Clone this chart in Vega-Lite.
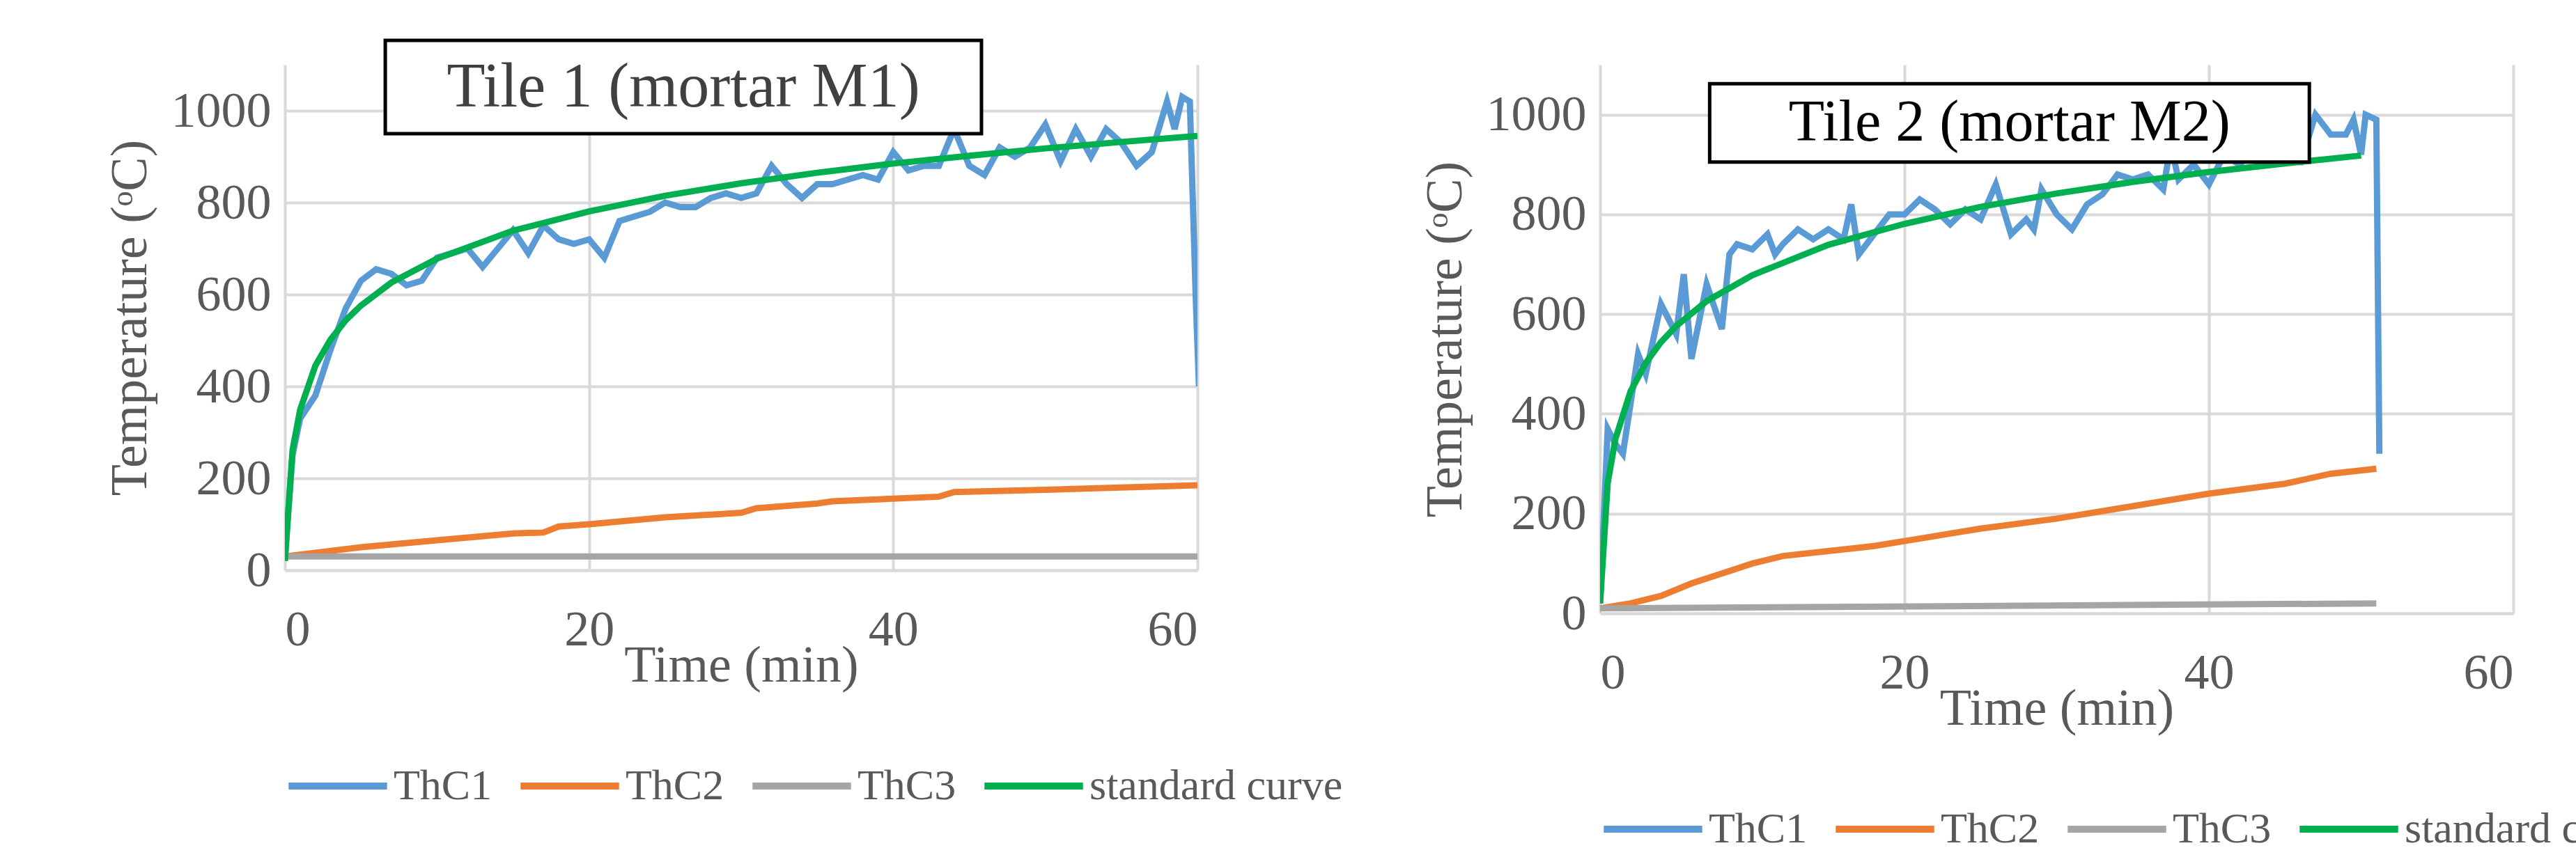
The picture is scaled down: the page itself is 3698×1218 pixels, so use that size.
{
  "$schema": "https://vega.github.io/schema/vega-lite/v6.json",
  "background": "white",
  "padding": {"left": 150, "top": 17, "right": 10, "bottom": 5},
  "spacing": 110,
  "datasets": {
    "tile1": [
      {"t":0,"temp":30,"s":"ThC1"},{"t":0.5,"temp":250,"s":"ThC1"},{"t":1,"temp":330,"s":"ThC1"},{"t":2,"temp":380,"s":"ThC1"},{"t":3,"temp":480,"s":"ThC1"},{"t":4,"temp":570,"s":"ThC1"},{"t":5,"temp":630,"s":"ThC1"},{"t":6,"temp":655,"s":"ThC1"},{"t":7,"temp":645,"s":"ThC1"},{"t":8,"temp":620,"s":"ThC1"},{"t":9,"temp":630,"s":"ThC1"},{"t":10,"temp":680,"s":"ThC1"},{"t":11,"temp":690,"s":"ThC1"},{"t":12,"temp":700,"s":"ThC1"},{"t":13,"temp":660,"s":"ThC1"},{"t":14,"temp":700,"s":"ThC1"},{"t":15,"temp":740,"s":"ThC1"},{"t":16,"temp":690,"s":"ThC1"},{"t":17,"temp":750,"s":"ThC1"},{"t":18,"temp":720,"s":"ThC1"},{"t":19,"temp":710,"s":"ThC1"},{"t":20,"temp":720,"s":"ThC1"},{"t":21,"temp":680,"s":"ThC1"},{"t":22,"temp":760,"s":"ThC1"},{"t":23,"temp":770,"s":"ThC1"},{"t":24,"temp":780,"s":"ThC1"},{"t":25,"temp":800,"s":"ThC1"},{"t":26,"temp":790,"s":"ThC1"},{"t":27,"temp":790,"s":"ThC1"},{"t":28,"temp":810,"s":"ThC1"},{"t":29,"temp":820,"s":"ThC1"},{"t":30,"temp":810,"s":"ThC1"},{"t":31,"temp":820,"s":"ThC1"},{"t":32,"temp":880,"s":"ThC1"},{"t":33,"temp":840,"s":"ThC1"},{"t":34,"temp":810,"s":"ThC1"},{"t":35,"temp":840,"s":"ThC1"},{"t":36,"temp":840,"s":"ThC1"},{"t":37,"temp":850,"s":"ThC1"},{"t":38,"temp":860,"s":"ThC1"},{"t":39,"temp":850,"s":"ThC1"},{"t":40,"temp":910,"s":"ThC1"},{"t":41,"temp":870,"s":"ThC1"},{"t":42,"temp":880,"s":"ThC1"},{"t":43,"temp":880,"s":"ThC1"},{"t":44,"temp":960,"s":"ThC1"},{"t":45,"temp":880,"s":"ThC1"},{"t":46,"temp":860,"s":"ThC1"},{"t":47,"temp":920,"s":"ThC1"},{"t":48,"temp":900,"s":"ThC1"},{"t":49,"temp":920,"s":"ThC1"},{"t":50,"temp":970,"s":"ThC1"},{"t":51,"temp":890,"s":"ThC1"},{"t":52,"temp":960,"s":"ThC1"},{"t":53,"temp":900,"s":"ThC1"},{"t":54,"temp":960,"s":"ThC1"},{"t":55,"temp":930,"s":"ThC1"},{"t":56,"temp":880,"s":"ThC1"},{"t":57,"temp":910,"s":"ThC1"},{"t":58,"temp":1020,"s":"ThC1"},{"t":58.5,"temp":960,"s":"ThC1"},{"t":59,"temp":1030,"s":"ThC1"},{"t":59.5,"temp":1020,"s":"ThC1"},{"t":59.9,"temp":580,"s":"ThC1"},{"t":60.1,"temp":400,"s":"ThC1"},
      {"t":0,"temp":30,"s":"ThC2"},{"t":5,"temp":50,"s":"ThC2"},{"t":10,"temp":65,"s":"ThC2"},{"t":15,"temp":80,"s":"ThC2"},{"t":17,"temp":82,"s":"ThC2"},{"t":18,"temp":95,"s":"ThC2"},{"t":20,"temp":100,"s":"ThC2"},{"t":25,"temp":115,"s":"ThC2"},{"t":30,"temp":125,"s":"ThC2"},{"t":31,"temp":135,"s":"ThC2"},{"t":35,"temp":145,"s":"ThC2"},{"t":36,"temp":150,"s":"ThC2"},{"t":43,"temp":160,"s":"ThC2"},{"t":44,"temp":170,"s":"ThC2"},{"t":50,"temp":175,"s":"ThC2"},{"t":60,"temp":185,"s":"ThC2"},
      {"t":0,"temp":30,"s":"ThC3"},{"t":60,"temp":30,"s":"ThC3"},
      {"t":0,"temp":20,"s":"standard curve"},{"t":0.5,"temp":261,"s":"standard curve"},{"t":1,"temp":349,"s":"standard curve"},{"t":2,"temp":445,"s":"standard curve"},{"t":3,"temp":502,"s":"standard curve"},{"t":4,"temp":544,"s":"standard curve"},{"t":5,"temp":576,"s":"standard curve"},{"t":7,"temp":626,"s":"standard curve"},{"t":10,"temp":678,"s":"standard curve"},{"t":15,"temp":739,"s":"standard curve"},{"t":20,"temp":781,"s":"standard curve"},{"t":25,"temp":815,"s":"standard curve"},{"t":30,"temp":842,"s":"standard curve"},{"t":35,"temp":865,"s":"standard curve"},{"t":40,"temp":885,"s":"standard curve"},{"t":45,"temp":902,"s":"standard curve"},{"t":50,"temp":918,"s":"standard curve"},{"t":55,"temp":932,"s":"standard curve"},{"t":60,"temp":945,"s":"standard curve"}
    ],
    "tile2": [
      {"t":0,"temp":20,"s":"ThC1"},{"t":0.5,"temp":370,"s":"ThC1"},{"t":1,"temp":340,"s":"ThC1"},{"t":1.5,"temp":320,"s":"ThC1"},{"t":2,"temp":420,"s":"ThC1"},{"t":2.5,"temp":520,"s":"ThC1"},{"t":3,"temp":480,"s":"ThC1"},{"t":4,"temp":620,"s":"ThC1"},{"t":5,"temp":560,"s":"ThC1"},{"t":5.5,"temp":680,"s":"ThC1"},{"t":6,"temp":510,"s":"ThC1"},{"t":7,"temp":660,"s":"ThC1"},{"t":8,"temp":570,"s":"ThC1"},{"t":8.5,"temp":720,"s":"ThC1"},{"t":9,"temp":740,"s":"ThC1"},{"t":10,"temp":730,"s":"ThC1"},{"t":11,"temp":760,"s":"ThC1"},{"t":11.5,"temp":720,"s":"ThC1"},{"t":12,"temp":740,"s":"ThC1"},{"t":13,"temp":770,"s":"ThC1"},{"t":14,"temp":750,"s":"ThC1"},{"t":15,"temp":770,"s":"ThC1"},{"t":16,"temp":750,"s":"ThC1"},{"t":16.5,"temp":820,"s":"ThC1"},{"t":17,"temp":720,"s":"ThC1"},{"t":18,"temp":760,"s":"ThC1"},{"t":19,"temp":800,"s":"ThC1"},{"t":20,"temp":800,"s":"ThC1"},{"t":21,"temp":830,"s":"ThC1"},{"t":22,"temp":810,"s":"ThC1"},{"t":23,"temp":780,"s":"ThC1"},{"t":24,"temp":810,"s":"ThC1"},{"t":25,"temp":790,"s":"ThC1"},{"t":26,"temp":860,"s":"ThC1"},{"t":27,"temp":760,"s":"ThC1"},{"t":28,"temp":790,"s":"ThC1"},{"t":28.5,"temp":770,"s":"ThC1"},{"t":29,"temp":850,"s":"ThC1"},{"t":30,"temp":800,"s":"ThC1"},{"t":31,"temp":770,"s":"ThC1"},{"t":32,"temp":820,"s":"ThC1"},{"t":33,"temp":840,"s":"ThC1"},{"t":34,"temp":880,"s":"ThC1"},{"t":35,"temp":870,"s":"ThC1"},{"t":36,"temp":880,"s":"ThC1"},{"t":37,"temp":850,"s":"ThC1"},{"t":37.5,"temp":940,"s":"ThC1"},{"t":38,"temp":870,"s":"ThC1"},{"t":39,"temp":900,"s":"ThC1"},{"t":40,"temp":860,"s":"ThC1"},{"t":41,"temp":920,"s":"ThC1"},{"t":42,"temp":900,"s":"ThC1"},{"t":43,"temp":930,"s":"ThC1"},{"t":44,"temp":940,"s":"ThC1"},{"t":45,"temp":960,"s":"ThC1"},{"t":45.5,"temp":1000,"s":"ThC1"},{"t":46,"temp":900,"s":"ThC1"},{"t":47,"temp":1000,"s":"ThC1"},{"t":48,"temp":960,"s":"ThC1"},{"t":49,"temp":960,"s":"ThC1"},{"t":49.5,"temp":990,"s":"ThC1"},{"t":50,"temp":920,"s":"ThC1"},{"t":50.3,"temp":1000,"s":"ThC1"},{"t":51,"temp":990,"s":"ThC1"},{"t":51.2,"temp":320,"s":"ThC1"},
      {"t":0,"temp":10,"s":"ThC2"},{"t":2,"temp":20,"s":"ThC2"},{"t":4,"temp":35,"s":"ThC2"},{"t":6,"temp":60,"s":"ThC2"},{"t":8,"temp":80,"s":"ThC2"},{"t":10,"temp":100,"s":"ThC2"},{"t":12,"temp":115,"s":"ThC2"},{"t":15,"temp":125,"s":"ThC2"},{"t":18,"temp":135,"s":"ThC2"},{"t":20,"temp":145,"s":"ThC2"},{"t":25,"temp":170,"s":"ThC2"},{"t":30,"temp":190,"s":"ThC2"},{"t":35,"temp":215,"s":"ThC2"},{"t":40,"temp":240,"s":"ThC2"},{"t":45,"temp":260,"s":"ThC2"},{"t":48,"temp":280,"s":"ThC2"},{"t":51,"temp":290,"s":"ThC2"},
      {"t":0,"temp":10,"s":"ThC3"},{"t":51,"temp":20,"s":"ThC3"},
      {"t":0,"temp":20,"s":"standard curve"},{"t":0.5,"temp":261,"s":"standard curve"},{"t":1,"temp":349,"s":"standard curve"},{"t":2,"temp":445,"s":"standard curve"},{"t":3,"temp":502,"s":"standard curve"},{"t":4,"temp":544,"s":"standard curve"},{"t":5,"temp":576,"s":"standard curve"},{"t":7,"temp":626,"s":"standard curve"},{"t":10,"temp":678,"s":"standard curve"},{"t":15,"temp":739,"s":"standard curve"},{"t":20,"temp":781,"s":"standard curve"},{"t":25,"temp":815,"s":"standard curve"},{"t":30,"temp":842,"s":"standard curve"},{"t":35,"temp":865,"s":"standard curve"},{"t":40,"temp":885,"s":"standard curve"},{"t":45,"temp":902,"s":"standard curve"},{"t":50,"temp":918,"s":"standard curve"}
    ]
  },
  "hconcat": [
    {
      "width": 1310,
      "height": 726,
      "title": {"text": ".", "fontSize": 28, "color": "white", "offset": 10},
      "layer": [
        {
          "data": {"name": "tile1"},
          "mark": {"type": "line", "strokeWidth": 9, "clip": true},
          "encoding": {
            "x": {"field": "t", "type": "quantitative", "title": "Time (min)", "scale": {"domain": [0, 60], "nice": false}, "axis": {"values": [0, 20, 40, 60]}},
            "y": {"field": "temp", "type": "quantitative", "title": "Temperature (ᵒC)", "scale": {"domain": [0, 1100], "nice": false}, "axis": {"values": [0, 200, 400, 600, 800, 1000], "format": "d"}},
            "color": {"field": "s", "type": "nominal", "title": null,
              "scale": {"domain": ["ThC1", "ThC2", "ThC3", "standard curve"], "range": ["#5b9bd5", "#ed7d31", "#a5a5a5", "#00b050"]},
              "legend": {"offset": 60}},
            "order": {"field": "t", "type": "quantitative"}
          }
        },
        {
          "data": {"values": [{"a": 1}]},
          "mark": {"type": "rect", "fill": "white", "stroke": "black", "strokeWidth": 5},
          "encoding": {"x": {"datum": 6.6}, "x2": {"datum": 45.8}, "y": {"datum": 950}, "y2": {"datum": 1153}}
        },
        {
          "data": {"values": [{"a": 1}]},
          "mark": {"type": "text", "text": "Tile 1 (mortar M1)", "font": "Liberation Serif", "fontSize": 90, "color": "#404040"},
          "encoding": {"x": {"datum": 26.2}, "y": {"datum": 1050}}
        }
      ]
    },
    {
      "width": 1311,
      "height": 788,
      "layer": [
        {
          "data": {"name": "tile2"},
          "mark": {"type": "line", "strokeWidth": 9, "clip": true},
          "encoding": {
            "x": {"field": "t", "type": "quantitative", "title": "Time (min)", "scale": {"domain": [0, 60], "nice": false}, "axis": {"values": [0, 20, 40, 60]}},
            "y": {"field": "temp", "type": "quantitative", "title": "Temperature (ᵒC)", "scale": {"domain": [0, 1100], "nice": false}, "axis": {"values": [0, 200, 400, 600, 800, 1000], "format": "d"}},
            "color": {"field": "s", "type": "nominal", "title": null,
              "scale": {"domain": ["ThC1", "ThC2", "ThC3", "standard curve"], "range": ["#5b9bd5", "#ed7d31", "#a5a5a5", "#00b050"]},
              "legend": {"offset": 60}},
            "order": {"field": "t", "type": "quantitative"}
          }
        },
        {
          "data": {"values": [{"a": 1}]},
          "mark": {"type": "rect", "fill": "white", "stroke": "black", "strokeWidth": 5},
          "encoding": {"x": {"datum": 7.2}, "x2": {"datum": 46.6}, "y": {"datum": 905}, "y2": {"datum": 1062}}
        },
        {
          "data": {"values": [{"a": 1}]},
          "mark": {"type": "text", "text": "Tile 2 (mortar M2)", "font": "Liberation Serif", "fontSize": 84, "color": "black"},
          "encoding": {"x": {"datum": 26.9}, "y": {"datum": 983}}
        }
      ]
    }
  ],
  "resolve": {"legend": {"color": "independent"}, "scale": {"color": "independent"}},
  "config": {
    "view": {"stroke": null},
    "font": "Liberation Serif",
    "title": {"font": "Liberation Serif"},
    "axis": {
      "labelFont": "Liberation Serif", "titleFont": "Liberation Serif",
      "labelFontSize": 72, "titleFontSize": 74, "labelColor": "#595959", "titleColor": "#595959",
      "titleFontWeight": "normal", "gridColor": "#d9d9d9", "gridWidth": 4, "ticks": false,
      "domain": false, "labelPadding": 20
    },
    "axisX": {"titlePadding": -20, "labelPadding": 50, "domain": true, "domainColor": "#d9d9d9", "domainWidth": 4},
    "axisY": {"titlePadding": 20},
    "legend": {
      "orient": "bottom", "direction": "horizontal", "symbolType": "stroke", "symbolStrokeWidth": 10,
      "symbolSize": 20000, "labelFont": "Liberation Serif", "labelFontSize": 62, "labelColor": "#595959",
      "columnPadding": 20, "labelLimit": 0
    }
  }
}
